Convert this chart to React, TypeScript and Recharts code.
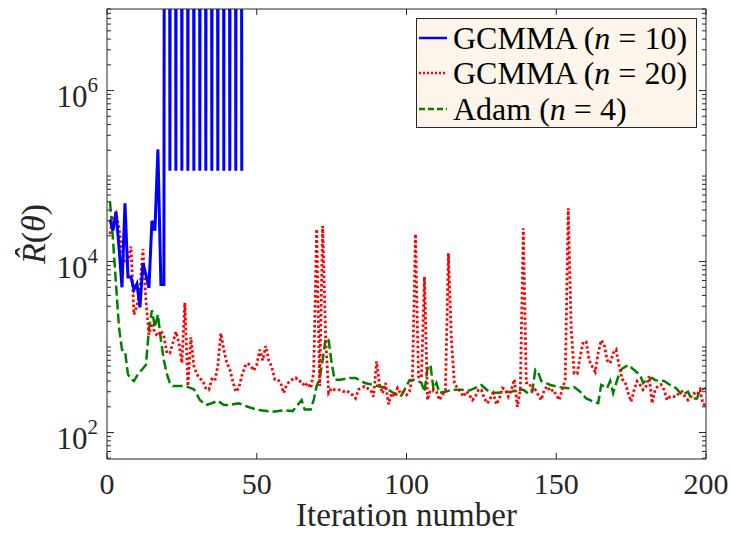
import { LineChart, Line, XAxis, YAxis, Legend } from "recharts";

const AXIS = "#262626";
const SERIF = '"Liberation Serif", "Times New Roman", serif';

const xTicks = [0, 50, 100, 150, 200];
const yMajor = [1e2, 1e4, 1e6];
const yDomain = [49, 9e6];

// GCMMA (n = 10): iterations 1..45, blows past the top of the axis from iteration 20 on
const gcmma10 = [
  31000, 23000, 38000, 15000, 5000, 48000, 6600, 6600, 4700, 5500,
  2900, 9600, 7000, 4900, 30000, 23000, 205000, 5400, 5400,
  1e40, 115000, 1e40, 115000, 1e40, 115000, 1e40, 115000, 1e40, 115000,
  1e40, 115000, 1e40, 115000, 1e40, 115000, 1e40, 115000, 1e40, 115000,
  1e40, 115000, 1e40, 115000, 1e40, 115000,
];

// GCMMA (n = 20): iterations 1..200
const gcmma20 = [
  21000, 33000, 37000, 25000, 13000, 9600, 10000, 15000, 2400, 3000,
  4700, 14000, 3500, 1400, 1900, 1450, 1350, 1550, 1320, 850,
  850, 1120, 1510, 1120, 650, 3300, 350, 1300, 600, 480,
  430, 400, 330, 316, 420, 400, 600, 1450, 930, 650,
  550, 400, 300, 330, 457, 590, 646, 600, 530, 620,
  930, 700, 1030, 700, 590, 420, 420, 380, 290, 363,
  398, 420, 437, 398, 398, 347, 380, 331, 500, 24000,
  350, 26000, 1300, 290, 331, 316, 316, 316, 302, 310,
  290, 275, 251, 320, 330, 347, 330, 316, 263, 680,
  363, 288, 380, 214, 288, 263, 331, 288, 300, 275,
  302, 450, 21000, 450, 437, 6600, 240, 316, 316, 302,
  240, 275, 316, 12500, 1200, 380, 331, 302, 263, 302,
  275, 240, 263, 316, 316, 251, 220, 251, 288, 214,
  251, 331, 320, 263, 316, 417, 200, 316, 24500, 380,
  380, 302, 316, 275, 240, 316, 347, 302, 316, 275,
  240, 316, 420, 42000, 1585, 490, 490, 776, 1150, 1150,
  700, 590, 513, 851, 1200, 1070, 700, 646, 851, 933,
  600, 420, 390, 290, 230, 316, 398, 360, 316, 347,
  457, 220, 316, 350, 363, 316, 240, 263, 263, 263,
  290, 302, 263, 240, 263, 288, 275, 316, 214, 210,
];

// Adam (n = 4): [iteration, value]
const adam: [number, number][] = [
  [1, 50000], [2, 18000], [3, 5500], [4, 1700], [5, 930], [6, 900], [7, 480], [8, 420],
  [9, 400], [10, 460], [11, 510], [12, 560], [13, 620], [14, 1600], [15, 2700], [16, 1700],
  [17, 2400], [18, 1200], [19, 700], [20, 480], [21, 380], [22, 350], [24, 350], [26, 350],
  [28, 330], [29, 320], [30, 280], [31, 240], [33, 210], [35, 220], [37, 235], [39, 210],
  [41, 210], [44, 220], [47, 200], [50, 185], [55, 175], [59, 182], [62, 178], [65, 240],
  [66, 186], [68, 186], [69, 240], [70, 350], [71, 430], [72, 700], [73, 1270], [74, 1200],
  [75, 650], [76, 415], [78, 415], [81, 435], [83, 435], [86, 380], [89, 360], [93, 330],
  [95, 300], [98, 260], [99, 300], [101, 410], [103, 415], [105, 380], [106, 300], [107, 560],
  [108, 620], [109, 320], [110, 380], [111, 290], [113, 300], [115, 316], [118, 316], [121, 310],
  [125, 360], [128, 290], [132, 295], [135, 300], [137, 316], [139, 316], [141, 280], [142, 300],
  [143, 540], [144, 500], [145, 400], [148, 360], [151, 340], [154, 330], [156, 340], [158, 300],
  [160, 250], [163, 225], [164, 220], [165, 360], [167, 330], [168, 400], [169, 290], [171, 490],
  [172, 560], [174, 615], [176, 540], [178, 470], [179, 380], [180, 410], [182, 435], [183, 410],
  [186, 400], [188, 360], [190, 330], [192, 275], [194, 300], [195, 250], [197, 250], [198, 316],
  [200, 330],
];

const blueData = gcmma10.map((v, i) => ({ x: i + 1, v }));
const redData = gcmma20.map((v, i) => ({ x: i + 1, v }));
const greenData = adam.map(([x, v]) => ({ x, v }));

// minor + major tick positions for the log axis
const yTicks: number[] = [];
for (let k = 1; k <= 6; k++) {
  for (let m = 1; m <= 9; m++) {
    const t = m * Math.pow(10, k);
    if (t >= yDomain[0] && t <= yDomain[1]) yTicks.push(t);
  }
}
const isMajor = (v: number) => yMajor.some((m) => Math.abs(m - v) < 1e-6 * m);

const legendItems = [
  { color: "#0000ff", dash: undefined, label: "GCMMA (", rest: " = 10)" },
  { color: "#ff0000", dash: "2 2", label: "GCMMA (", rest: " = 20)" },
  { color: "#008000", dash: "6 3", label: "Adam (", rest: " = 4)" },
];

function BottomTick({ x, y, payload }: any) {
  return (
    <g>
      <line x1={x} x2={x} y1={y} y2={y - 6} stroke={AXIS} />
      <text x={x} y={y + 35} textAnchor="middle" fontSize={30} fontFamily={SERIF} fill={AXIS}>
        {payload.value}
      </text>
    </g>
  );
}

function TopTick({ x, y }: any) {
  return <line x1={x} x2={x} y1={y} y2={y + 6} stroke={AXIS} />;
}

function LeftTick({ x, y, payload }: any) {
  const major = isMajor(payload.value);
  return (
    <g>
      <line x1={x} x2={x + (major ? 7 : 4)} y1={y} y2={y} stroke={AXIS} />
      {major && (
        <text x={x - 9} y={y + 16} textAnchor="end" fontSize={31} fontFamily={SERIF} fill={AXIS}>
          <tspan>10</tspan>
          <tspan dy={-15} fontSize={21}>
            {Math.round(Math.log10(payload.value))}
          </tspan>
        </text>
      )}
    </g>
  );
}

function RightTick({ x, y, payload }: any) {
  const major = isMajor(payload.value);
  return <line x1={x} x2={x - (major ? 7 : 4)} y1={y} y2={y} stroke={AXIS} />;
}

function LegendBox() {
  return (
    <div
      style={{
        border: `1px solid ${AXIS}`,
        background: "#fdf5ea",
        width: 281,
        height: 110,
        paddingTop: 1,
        boxSizing: "border-box",
        fontFamily: SERIF,
        fontSize: 32,
        color: "#000",
        lineHeight: "36px",
      }}
    >
      {legendItems.map((it) => (
        <div key={it.rest + it.label} style={{ display: "flex", alignItems: "center", height: 35.5 }}>
          <svg width={36} height={10} style={{ flex: "none" }}>
            <line x1={2} x2={30} y1={5} y2={5} stroke={it.color} strokeWidth={2.5} strokeDasharray={it.dash} />
          </svg>
          <span style={{ whiteSpace: "nowrap" }}>
            {it.label}
            <i>n</i>
            {it.rest}
          </span>
        </div>
      ))}
    </div>
  );
}

export default function App() {
  return (
    <div style={{ position: "absolute", left: 0, top: 0, width: 731, height: 535, background: "#fff" }}>
      <LineChart width={731} height={535} margin={{ top: 0, right: 0, bottom: 0, left: 0 }}>
        <XAxis
          dataKey="x"
          type="number"
          domain={[0, 200]}
          ticks={xTicks}
          interval={0}
          allowDataOverflow
          height={76}
          tickSize={0}
          tickMargin={0}
          tick={<BottomTick />}
          axisLine={{ stroke: AXIS }}
          label={({ viewBox }: any) => (
            <text
              x={viewBox.x + viewBox.width / 2}
              y={viewBox.y + 67}
              textAnchor="middle"
              fontSize={33}
              fontFamily={SERIF}
              fill={AXIS}
            >
              Iteration number
            </text>
          )}
        />
        <XAxis
          xAxisId="top"
          orientation="top"
          dataKey="x"
          type="number"
          domain={[0, 200]}
          ticks={xTicks}
          interval={0}
          allowDataOverflow
          height={9}
          tickSize={0}
          tickMargin={0}
          tick={<TopTick />}
          axisLine={{ stroke: AXIS }}
        />
        <YAxis
          type="number"
          scale="log"
          domain={yDomain}
          ticks={yTicks}
          interval={0}
          allowDataOverflow
          width={107}
          tickSize={0}
          tickMargin={0}
          tick={<LeftTick />}
          axisLine={{ stroke: AXIS }}
          label={({ viewBox }: any) => {
            const cx = 34;
            const cy = viewBox.y + viewBox.height / 2;
            return (
              <text
                transform={`rotate(-90 ${cx} ${cy})`}
                x={cx}
                y={cy + 11}
                textAnchor="middle"
                fontSize={34}
                fontFamily={SERIF}
                fill={AXIS}
              >
                <tspan fontStyle="italic">R̂</tspan>
                <tspan>(</tspan>
                <tspan fontStyle="italic">θ</tspan>
                <tspan>)</tspan>
              </text>
            );
          }}
        />
        <YAxis
          yAxisId="right"
          orientation="right"
          type="number"
          scale="log"
          domain={yDomain}
          ticks={yTicks}
          interval={0}
          allowDataOverflow
          width={25}
          tickSize={0}
          tickMargin={0}
          tick={<RightTick />}
          axisLine={{ stroke: AXIS }}
        />
        <Legend
          layout="horizontal"
          verticalAlign="middle"
          align="center"
          wrapperStyle={{ left: 416, top: 18, width: 281 }}
          content={() => <LegendBox />}
        />
        <Line
          data={greenData}
          dataKey="v"
          stroke="#008000"
          strokeWidth={2.5}
          strokeDasharray="10 4"
          dot={false}
          isAnimationActive={false}
        />
        <Line
          data={redData}
          dataKey="v"
          stroke="#ff0000"
          strokeWidth={2.8}
          strokeDasharray="2.5 2.5"
          dot={false}
          isAnimationActive={false}
        />
        <Line
          data={blueData}
          dataKey="v"
          stroke="#0000ff"
          strokeWidth={3}
          dot={false}
          isAnimationActive={false}
        />
      </LineChart>
    </div>
  );
}
